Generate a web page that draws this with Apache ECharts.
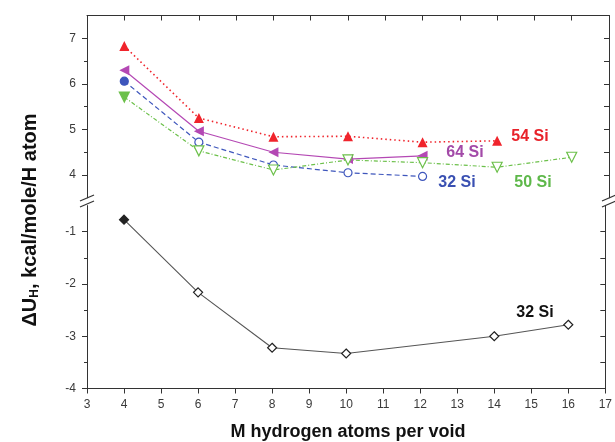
<!DOCTYPE html>
<html><head><meta charset="utf-8">
<script src="https://cdn.jsdelivr.net/npm/echarts@6/dist/echarts.min.js"></script>
<style>html,body{margin:0;padding:0;background:#fff}#c{width:615px;height:442px}</style>
</head><body><div id="c"></div>
<script>
// ---- data ----
var xTicks = [3,4,5,6,7,8,9,10,11,12,13,14,15,16,17];
var upperLabels = [4,5,6,7];
var lowerLabels = [-4,-3,-2,-1];
var x54 = [4,6,8,10,12,14];
var y54 = [6.83,5.25,4.84,4.85,4.72,4.75];
var x64 = [4,6,8,10,12];
var y64 = [6.30,4.96,4.50,4.35,4.42];
var x32 = [4,6,8,10,12];
var y32 = [6.06,4.72,4.22,4.05,3.97];
var x50 = [4,6,8,10,12,14,16];
var y50 = [5.71,4.53,4.11,4.33,4.27,4.17,4.39];
var xLow = [4,6,8,10,14,16];
var yLow = [-0.77,-2.16,-3.22,-3.33,-3.00,-2.78];

var AX = '#333';
var chart = echarts.init(document.getElementById('c'), null, {renderer:'canvas'});
var L = 87, R = 6;
var UT = 15.5, UB = 442 - 197.8, LT = 205.6, LB = 442 - 388.5;

function pts(xs, ys, color, firstFilled) {
  return xs.map(function (x, i) {
    var filled = (i === 0 && firstFilled);
    return {value: [x, ys[i]], itemStyle: {color: filled ? color : '#fff', borderColor: color, borderWidth: 1.2}};
  });
}
function solid(xs, ys, color) {
  return xs.map(function (x, i) { return {value: [x, ys[i]], itemStyle: {color: color}}; });
}
function yAx(grid, min, max, pos, opts) {
  var o = {type:'value', gridIndex:grid, min:min, max:max, interval:0.5, position:pos,
    axisLine:{show:true, onZero:false, lineStyle:{color:AX, width:1}},
    splitLine:{show:false}, axisLabel:{show:false}, axisTick:{show:false}};
  for (var k in opts) o[k] = opts[k];
  return o;
}
var fnt = 'Arial, "Liberation Sans", sans-serif';
var halvesU = [4,4.5,5,5.5,6,6.5,7], halvesL = [-4,-3.5,-3,-2.5,-2,-1.5,-1];

var option = {
  animation:false,
  backgroundColor:'#fff',
  grid:[
    {left:L, right:R, top:UT, bottom:UB},
    {left:L, right:R, top:LT, bottom:LB}
  ],
  xAxis:[
    {type:'value', gridIndex:0, min:3, max:17, interval:1, position:'top',
      axisLine:{show:true, onZero:false, lineStyle:{color:AX}},
      axisTick:{show:true, inside:true, length:5, lineStyle:{color:AX}},
      axisLabel:{show:false}, splitLine:{show:false}},
    {type:'value', gridIndex:1, min:3, max:17, interval:1, position:'bottom',
      axisLine:{show:true, onZero:false, lineStyle:{color:AX}},
      axisTick:{show:true, inside:false, length:5, lineStyle:{color:AX}},
      axisLabel:{show:true, margin:10, color:'#3a3a3a', fontSize:12, fontFamily:fnt, customValues: xTicks},
      splitLine:{show:false}}
  ],
  yAxis:[
    yAx(0, 3.5, 7.5, 'left', {
      axisTick:{show:true, inside:false, length:5, customValues:upperLabels, lineStyle:{color:AX}},
      axisLabel:{show:true, margin:11, color:'#3a3a3a', fontSize:12, fontFamily:fnt, customValues:upperLabels}}),
    yAx(0, 3.5, 7.5, 'left', {axisLine:{show:false},
      axisTick:{show:true, inside:false, length:3, customValues:[4.5,5.5,6.5], lineStyle:{color:AX}}}),
    yAx(0, 3.5, 7.5, 'right', {
      axisTick:{show:true, inside:true, length:5, customValues:halvesU, lineStyle:{color:AX}}}),
    yAx(1, -4, -0.5, 'left', {
      axisTick:{show:true, inside:false, length:5, customValues:lowerLabels, lineStyle:{color:AX}},
      axisLabel:{show:true, margin:11, color:'#3a3a3a', fontSize:12, fontFamily:fnt, customValues:lowerLabels}}),
    yAx(1, -4, -0.5, 'left', {axisLine:{show:false},
      axisTick:{show:true, inside:false, length:3, customValues:[-3.5,-2.5,-1.5], lineStyle:{color:AX}}}),
    yAx(1, -4, -0.5, 'right', {
      axisTick:{show:true, inside:true, length:5, customValues:halvesL, lineStyle:{color:AX}}})
  ],
  series:[
    {name:'54 Si', type:'line', xAxisIndex:0, yAxisIndex:0, symbol:'triangle', symbolSize:10,
      lineStyle:{color:'#f0242c', width:1.6, type:[1.5,3]},
      data: solid(x54, y54, '#f0242c')},
    {name:'64 Si', type:'line', xAxisIndex:0, yAxisIndex:0, symbol:'triangle', symbolSize:10, symbolRotate:90,
      lineStyle:{color:'#b448b4', width:1.2},
      data: solid(x64, y64, '#b448b4')},
    {name:'32 Si', type:'line', xAxisIndex:0, yAxisIndex:0, symbol:'circle', symbolSize:8,
      lineStyle:{color:'#3e56bc', width:1.2, type:[5,3]},
      data: pts(x32, y32, '#3e56bc', true)},
    {name:'50 Si', type:'line', xAxisIndex:0, yAxisIndex:0, symbol:'triangle', symbolSize:10, symbolRotate:180,
      lineStyle:{color:'#6cc04a', width:1.2, type:[4,2,1,2]},
      data: pts(x50, y50, '#6cc04a', true)},
    {name:'32 Si low', type:'line', xAxisIndex:1, yAxisIndex:3, symbol:'diamond', symbolSize:9,
      lineStyle:{color:'#555', width:1.1},
      data: pts(xLow, yLow, '#222', true)}
  ]
};
chart.setOption(option);

var lblFont = 'bold 16px Arial, "Liberation Sans", sans-serif';
function lbl(x, y, t, c) {
  return {type:'text', x:x, y:y, style:{text:t, fill:c, font:lblFont, align:'center', verticalAlign:'middle'}};
}
var bx = L, rx = 615 - R;
function brk(x) {
  return [
    {type:'rect', shape:{x:x-3, y:196, width:6, height:12}, style:{fill:'#fff'}},
    {type:'line', shape:{x1:x-7, y1:201, x2:x+7, y2:195}, style:{stroke:AX, lineWidth:1.2}},
    {type:'line', shape:{x1:x-7, y1:207, x2:x+7, y2:201}, style:{stroke:AX, lineWidth:1.2}}
  ];
}
var g = [
  lbl(530, 137, '54 Si', '#e8222a'),
  lbl(465, 153, '64 Si', '#a34aa8'),
  lbl(457, 183, '32 Si', '#3a50b2'),
  lbl(533, 183, '50 Si', '#5eb84a'),
  lbl(535, 313, '32 Si', '#111'),
  {type:'text', x:348, y:432, style:{text:'M hydrogen atoms per void', fill:'#111',
    font:'bold 18px Arial, "Liberation Sans", sans-serif', align:'center', verticalAlign:'middle'}},
  {type:'text', x:30, y:220, rotation:Math.PI/2, style:{
    text:'{a|ΔU}{s|H}{a|, kcal/mole/H atom}', align:'center', verticalAlign:'middle',
    rich:{a:{font:'bold 20px Arial, "Liberation Sans", sans-serif', fill:'#111'},
          s:{font:'bold 12px Arial, "Liberation Sans", sans-serif', fill:'#111', padding:[9,0,0,0]}}}}
].concat(brk(bx)).concat(brk(rx));
chart.setOption({graphic:{elements:g}});
</script></body></html>
